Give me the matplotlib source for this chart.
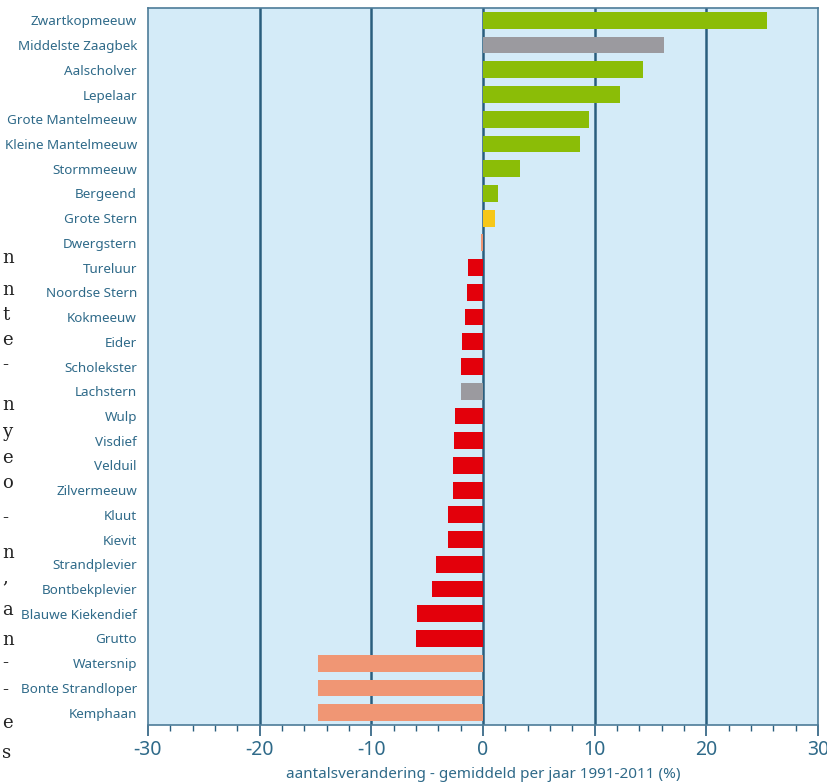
import matplotlib
matplotlib.use('Agg')
import matplotlib.pyplot as plt
from matplotlib.ticker import MultipleLocator

plt.rcParams['font.family'] = ['Noto Sans', 'DejaVu Sans']
plt.rcParams['axes.unicode_minus'] = False

species = ['Zwartkopmeeuw', 'Middelste Zaagbek', 'Aalscholver', 'Lepelaar',
           'Grote Mantelmeeuw', 'Kleine Mantelmeeuw', 'Stormmeeuw', 'Bergeend',
           'Grote Stern', 'Dwergstern', 'Tureluur', 'Noordse Stern', 'Kokmeeuw',
           'Eider', 'Scholekster', 'Lachstern', 'Wulp', 'Visdief', 'Velduil',
           'Zilvermeeuw', 'Kluut', 'Kievit', 'Strandplevier', 'Bontbekplevier',
           'Blauwe Kiekendief', 'Grutto', 'Watersnip', 'Bonte Strandloper',
           'Kemphaan']
change = [25.4, 16.2, 14.3, 12.3, 9.5, 8.7, 3.3, 1.3, 1.1, -0.2, -1.3, -1.4,
          -1.6, -1.9, -2.0, -2.0, -2.5, -2.6, -2.7, -2.7, -3.1, -3.1, -4.2,
          -4.6, -5.9, -6.0, -14.8, -14.8, -14.8]
# trend class per species
trend = ['up', 'unk', 'up', 'up', 'up', 'up', 'up', 'up', 'stable', 'strong',
         'down', 'down', 'down', 'down', 'down', 'unk', 'down', 'down', 'down',
         'down', 'down', 'down', 'down', 'down', 'down', 'down', 'strong',
         'strong', 'strong']

colors = {'up': '#8bbd07', 'unk': '#9b9a9f', 'stable': '#f6c719',
          'down': '#e3000b', 'strong': '#f09674'}

# cropped text column from the neighbouring page
margin_chars = ['n', 'n', 't', 'e', '-', 'n', 'y', 'e', 'o', '-', 'n', ',',
                'a', 'n', '-', '-', 'e', 's']
margin_y = [258, 290, 315, 340, 365, 405, 432, 458, 483, 518, 553, 577,
            610, 640, 663, 690, 723, 753]

txt = '#2f6a89'
grid = '#2a5e7e'

fig = plt.figure(figsize=(8.28, 7.84), dpi=100)
ax = fig.add_axes([148 / 828, 59 / 784, 670 / 828, 717 / 784])
ax.set_facecolor('#d4ebf8')

ypos = list(range(len(species)))
ax.barh(ypos, change, height=0.68, color=[colors[t] for t in trend],
        zorder=3)

ax.set_xlim(-30, 30)
ax.set_ylim(len(species) - 0.5, -0.5)
ax.set_yticks(ypos)
ax.set_yticklabels(species, fontsize=9.7, color=txt)
ax.tick_params(axis='y', length=0, pad=8)

ax.xaxis.set_major_locator(MultipleLocator(10))
ax.xaxis.set_minor_locator(MultipleLocator(2))
ax.tick_params(axis='x', which='major', length=8, width=1.2, color=grid,
               labelsize=14, labelcolor=txt, pad=3)
ax.tick_params(axis='x', which='minor', length=4, width=1.0, color=grid)
ax.set_xlabel('aantalsverandering - gemiddeld per jaar 1991-2011 (%)',
              fontsize=11, color=txt, labelpad=5)

for v in [-20, -10, 0, 10, 20]:
    ax.axvline(v, color=grid, lw=1.8, zorder=2)

for s in ax.spines.values():
    s.set_color('#4d7c98')
    s.set_linewidth(1.2)

for ch, y in zip(margin_chars, margin_y):
    fig.text(2 / 828, 1 - y / 784, ch, fontsize=13, family='DejaVu Serif',
             color='#222222', va='center', ha='left')

fig.savefig('out.png', dpi=100)
